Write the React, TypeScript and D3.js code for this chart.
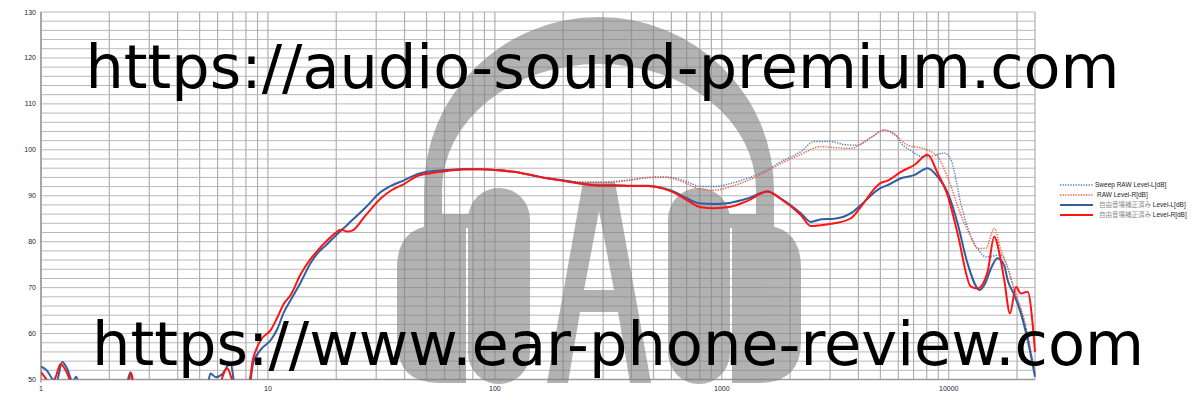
import React from "react";
import * as d3 from "d3";

// ---- Data (frequency Hz, level dB) ----
const rawLevelL: [number, number][] = [
  [144, 94.5], [170, 93.8], [202, 93.3], [239, 93.0], [283, 93.0], [335, 93.1], [397, 93.5], [470, 94.0],
  [557, 94.1], [616, 93.9], [706, 93.0], [808, 92.0], [925, 92.0], [1096, 92.7], [1298, 93.8], [1591, 95.7],
  [1820, 97.4], [2230, 99.6], [2553, 101.8], [3020, 101.8], [3500, 101.1], [3950, 101.0], [4500, 102.5],
  [5197, 104.3], [5800, 103.4], [6155, 101.5], [6814, 99.8], [7700, 98.5], [8350, 98.6], [9560, 99.3],
  [10230, 97.8], [11400, 87.6], [12530, 81.1], [13400, 78.5], [14600, 76.7], [16980, 77.1], [17900, 75.3],
  [19450, 69.5], [21500, 62.9], [24000, 51.4],
];

const rawLevelR: [number, number][] = [
  [144, 94.5], [170, 93.8], [202, 93.3], [239, 92.9], [283, 92.9], [335, 93.0], [397, 93.4], [470, 93.9],
  [557, 94.0], [616, 93.7], [706, 92.6], [808, 91.4], [925, 91.2], [1096, 92.0], [1298, 93.3], [1591, 95.4],
  [1820, 97.0], [2230, 99.0], [2733, 100.7], [3128, 100.5], [3706, 100.3], [4101, 101.3], [4600, 102.9],
  [5197, 104.3], [5800, 103.2], [6590, 101.0], [7700, 100.3], [8939, 98.5], [9930, 93.8], [11400, 85.4],
  [12530, 81.0], [13400, 78.5], [14600, 78.6], [15860, 82.9], [16980, 78.2], [17900, 75.3], [19450, 69.5],
  [21500, 62.9], [24000, 51.4],
];

const compLevelL: [number, number][] = [
  [1, 52.8], [1.06, 52.0], [1.12, 50.2], [1.17, 49.6], [1.24, 53.8], [1.3, 52.5], [1.38, 49.5], [1.43, 50.6],
  [1.5, 47], [2.3, 46], [2.48, 51.6], [2.6, 46], [5.3, 46], [5.58, 51.3], [5.9, 50.5], [6.3, 51.2], [6.84, 53.6],
  [7.2, 48], [8.2, 47], [8.6, 53.5], [9.3, 56.5], [10.3, 58.6], [11.0, 61], [11.75, 64.6], [12.6, 67.3],
  [13.9, 71], [15.4, 75.3], [16.5, 77.4], [18, 79.2], [19.5, 80.9], [22.4, 83.7], [27, 87.5], [31.4, 90.8],
  [35, 92.2], [39.6, 93.3], [45.5, 94.7], [52.1, 95.3], [61.7, 95.6], [72.8, 95.8], [86.5, 95.75],
  [100.8, 95.6], [121, 95.2], [144, 94.5], [170, 93.8], [202, 93.3], [239, 92.7], [283, 92.3], [335, 92.3],
  [397, 92.2], [470, 92.2], [557, 91.6], [616, 90.9], [706, 89.4], [808, 88.3], [925, 88.2], [1096, 88.5],
  [1298, 89.4], [1591, 90.9], [1820, 89.4], [2230, 86.2], [2467, 84.3], [2750, 84.9], [3128, 85.0],
  [3706, 86.2], [4101, 88.0], [4978, 91.6], [5379, 92.3], [6155, 93.8], [7047, 94.5], [8070, 96.0],
  [8939, 94.1], [9930, 90.5], [10940, 84.0], [12100, 75.3], [13700, 69.5], [14500, 71], [15300, 74],
  [16410, 76.4], [17570, 74.8], [18190, 71.6], [19450, 68.4], [20800, 64.4], [22280, 58.6], [24000, 50.6],
];

const compLevelR: [number, number][] = [
  [1, 51.6], [1.05, 50.2], [1.1, 48.5], [1.16, 50.5], [1.22, 53.4], [1.3, 51.5], [1.38, 48.5], [2.35, 46],
  [2.5, 51.4], [2.62, 46], [6.0, 46], [6.3, 50.5], [6.63, 52.4], [7.0, 49.5], [7.5, 47], [8.2, 48.5],
  [8.6, 54.5], [9.0, 57.2], [9.3, 58.6], [10.3, 60.8], [11.0, 63.5], [11.75, 66.5], [12.6, 68.4], [13.9, 72.8],
  [15.4, 76.2], [16.5, 78.0], [18, 80], [19.5, 81.6], [21, 82.6], [22.4, 82.2], [23.5, 82.4], [27, 85.8],
  [31.4, 89.4], [35, 91.2], [39.6, 92.5], [45.5, 94.3], [52.1, 94.9], [61.7, 95.4], [72.8, 95.7], [86.5, 95.75],
  [100.8, 95.6], [121, 95.2], [144, 94.5], [170, 93.8], [202, 93.2], [239, 92.6], [283, 92.2], [335, 92.2],
  [397, 92.1], [470, 92.1], [557, 91.5], [616, 90.7], [706, 89.0], [808, 87.5], [925, 87.3], [1096, 87.6],
  [1298, 88.9], [1591, 90.9], [1820, 89.3], [2230, 85.8], [2467, 83.4], [2733, 83.6], [3128, 84.0],
  [3706, 85.1], [4101, 87.6], [4978, 92.7], [5379, 93.3], [6155, 95.2], [7047, 96.7], [8070, 98.9],
  [8939, 94.9], [9930, 89.8], [10940, 81.8], [12530, 70.2], [13400, 69.8], [14840, 73.5], [15860, 81.1],
  [16800, 77], [17570, 71.6], [18620, 64.4], [19790, 70.2], [20800, 68.7], [22280, 69.1], [23440, 62], [24000, 56],
];

const xTickValues = [1, 10, 100, 1000, 10000];
const yTickValues = [50, 60, 70, 80, 90, 100, 110, 120, 130];

const legendJa = "自由音場補正済み";
const legendItems = [
  { label: "Sweep RAW Level-L[dB]", ja: "", color: "#4f81bd", dash: "1.3 1.3", width: 1.4 },
  { label: "RAW Level-R[dB]", ja: "", color: "#ff5533", dash: "1.3 1.3", width: 1.4 },
  { label: " Level-L[dB]", ja: legendJa, color: "#2f5f9f", dash: "", width: 2 },
  { label: " Level-R[dB]", ja: legendJa, color: "#ff1414", dash: "", width: 2 },
];

const watermark1 = "https://audio-sound-premium.com";
const watermark2 = "https://www.ear-phone-review.com";

export default function App() {
  const W = 1200;
  const H = 400;
  const left = 41, right = 1035, top = 12, bottom = 379.5;
  const x = d3.scaleLog().domain([1, 24000]).range([left, right]);
  const y = d3.scaleLinear().domain([50, 130]).range([bottom, top]);

  const line = d3
    .line<[number, number]>()
    .x((d) => x(d[0]))
    .y((d) => y(d[1]))
    .curve(d3.curveMonotoneX);

  const vGrid: number[] = [];
  for (let e = 0; e <= 4; e++) {
    for (let k = 1; k <= 9; k++) {
      const f = k * Math.pow(10, e);
      if (f <= 24000) vGrid.push(f);
    }
  }
  const hGrid = d3.range(50, 131, 2);

  // logo geometry (centered)
  const cx = 599;
  const bandY = 190;
  const outRx = 175, outRy = 173, inRx = 157, inRy = 126;
  const bandBottom = 230;
  const bandPath = [
    `M${cx - outRx},${bandBottom}`,
    `L${cx - outRx},${bandY}`,
    `A${outRx},${outRy} 0 0 1 ${cx + outRx},${bandY}`,
    `L${cx + outRx},${bandBottom}`,
    `L${cx + inRx},${bandBottom}`,
    `L${cx + inRx},${bandY}`,
    `A${inRx},${inRy} 0 0 0 ${cx - inRx},${bandY}`,
    `L${cx - inRx},${bandBottom}`,
    "Z",
  ].join(" ");

  const aPath =
    `M${cx - 16},182 L${cx + 16},182 L${cx + 52},383 L${cx + 31},383 L${cx + 19},312 L${cx - 19},312 L${cx - 31},383 L${cx - 52},383 Z ` +
    `M${cx},211 L${cx + 15},290 L${cx - 15},290 Z`;

  const logoFill = "#808080";
  const logoOpacity = 0.6;

  const fontSmall = "'Liberation Sans', Arial, 'DejaVu Sans', sans-serif";

  return (
    <svg
      width={W}
      height={H}
      viewBox={`0 0 ${W} ${H}`}
      style={{ position: "absolute", left: 0, top: 0, background: "#ffffff" }}
    >
      <defs>
        <clipPath id="plotClip">
          <rect x={left} y={top} width={right - left + 1} height={bottom - top} />
        </clipPath>
      </defs>
      <rect x={0} y={0} width={W} height={H} fill="#ffffff" />

      {/* grid */}
      <g>
        {hGrid.map((v) => (
          <line key={"h" + v} x1={left} x2={right} y1={y(v)} y2={y(v)} stroke="#b8b8b8" strokeWidth={1} />
        ))}
        {vGrid.map((f) => (
          <line key={"v" + f} x1={x(f)} x2={x(f)} y1={top} y2={bottom} stroke="#b0b0b0" strokeWidth={1.2} />
        ))}
        <line x1={right} x2={right} y1={top} y2={bottom} stroke="#b0b0b0" strokeWidth={1.2} />
        <line x1={left} x2={left} y1={top} y2={bottom + 3} stroke="#9a9a9a" strokeWidth={1.5} />
        <line x1={left} x2={right} y1={bottom} y2={bottom} stroke="#9a9a9a" strokeWidth={1.5} />
      </g>

      {/* logo */}
      <g fill={logoFill} opacity={logoOpacity}>
        <path d={bandPath} />
        {/* left cup */}
        <rect x={cx - 131} y={188} width={62} height={196} rx={31} />
        <path d={`M${cx - 133},225 L${cx - 133},383 L${cx - 160},383 Q${cx - 202},383 ${cx - 202},341 L${cx - 202},268 Q${cx - 202},225 ${cx - 160},225 Z`} />
        <rect x={cx - 158} y={214} width={28} height={14} />
        {/* right cup */}
        <rect x={cx + 69} y={188} width={62} height={196} rx={31} />
        <path d={`M${cx + 133},225 L${cx + 133},383 L${cx + 160},383 Q${cx + 202},383 ${cx + 202},341 L${cx + 202},268 Q${cx + 202},225 ${cx + 160},225 Z`} />
        <rect x={cx + 130} y={214} width={28} height={14} />
        {/* letter A */}
        <path d={aPath} fillRule="evenodd" />
      </g>

      {/* curves */}
      <g clipPath="url(#plotClip)" fill="none">
        <path d={line(rawLevelL) || ""} stroke="#4f81bd" strokeWidth={1.4} strokeDasharray="1.3 1.3" />
        <path d={line(rawLevelR) || ""} stroke="#ff5533" strokeWidth={1.4} strokeDasharray="1.3 1.3" />
        <path d={line(compLevelL) || ""} stroke="#2f5f9f" strokeWidth={2} />
        <path d={line(compLevelR) || ""} stroke="#ff1414" strokeWidth={2} />
      </g>

      {/* axis labels */}
      <g fontFamily={fontSmall} fontSize={7} fill="#1a1a3a">
        {yTickValues.map((v) => (
          <text key={"yl" + v} x={36} y={y(v) + 2.5} textAnchor="end">
            {v}
          </text>
        ))}
        {xTickValues.map((f) => (
          <text key={"xl" + f} x={x(f)} y={391} textAnchor="middle">
            {f}
          </text>
        ))}
      </g>

      {/* legend */}
      <g fontFamily={fontSmall} fontSize={6.5}>
        {legendItems.map((it, i) => {
          const ly = 185 + i * 10;
          return (
            <g key={"lg" + i}>
              <line x1={1060} x2={1093} y1={ly} y2={ly} stroke={it.color} strokeWidth={it.width} strokeDasharray={it.dash || undefined} />
              {it.ja ? (
                <text x={1099} y={ly + 2.3} fill="#222">
                  <tspan fill="#8a8a8a" fontFamily="'Noto Sans CJK JP', sans-serif">{it.ja}</tspan>
                  <tspan>{it.label}</tspan>
                </text>
              ) : (
                <text x={i === 0 ? 1095 : 1097} y={ly + 2.3} fill="#222">
                  {it.label}
                </text>
              )}
            </g>
          );
        })}
      </g>

      {/* watermarks */}
      <g fontFamily="'DejaVu Sans', sans-serif" fontSize={60.5} fill="#000000">
        <text x={85.5} y={87.5} textLength={1034} lengthAdjust="spacingAndGlyphs">
          {watermark1}
        </text>
        <text x={92} y={365} textLength={1052} lengthAdjust="spacingAndGlyphs">
          {watermark2}
        </text>
      </g>
    </svg>
  );
}
